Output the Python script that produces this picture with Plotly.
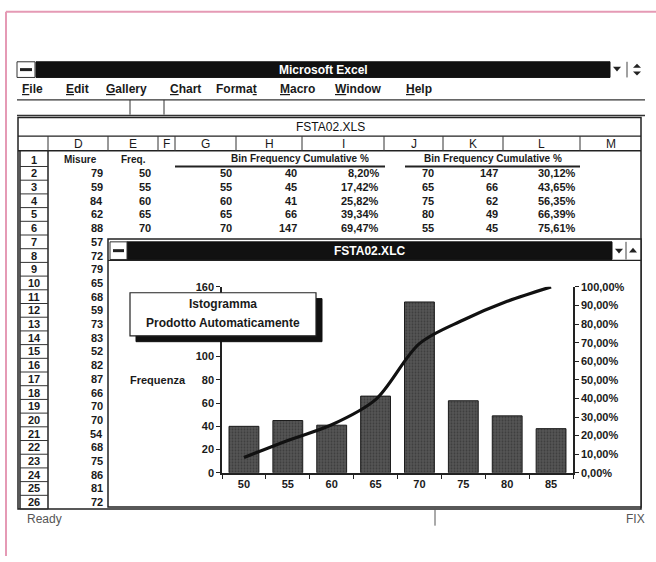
import plotly.graph_objects as go

W, H = 656, 562


def X(px):
    return px / W


def Y(py):
    return 1 - py / H


# ---------------- data ----------------
bins = ["50", "55", "60", "65", "70", "75", "80", "85"]
frequency = [40, 45, 41, 66, 147, 62, 49, 38]
cumulative_pct = [8.20, 17.42, 25.82, 39.34, 69.47, 82.17, 92.21, 100.00]

left_ticks = [0, 20, 40, 60, 80, 100, 120, 140, 160]
left_ticklabels = ["0", "20", "40", "60", "80", "100", "", "", "160"]  # 120/140 hidden by the text box
right_ticks = [0, 10, 20, 30, 40, 50, 60, 70, 80, 90, 100]
right_ticklabels = ["0,00%", "10,00%", "20,00%", "30,00%", "40,00%", "50,00%",
                    "60,00%", "70,00%", "80,00%", "90,00%", "100,00%"]

# spreadsheet content
misure = [79, 59, 84, 62, 88, 57, 72, 79, 65, 68, 59, 73, 83, 52, 82, 87, 66, 70,
          70, 54, 68, 75, 86, 81, 72]
freq_col = [50, 55, 60, 65, 70]
table_bins = [50, 55, 60, 65, 70]
table_freq = [40, 45, 41, 66, 147]
table_cum = ["8,20%", "17,42%", "25,82%", "39,34%", "69,47%"]
sorted_bins = [70, 65, 75, 80, 55]
sorted_freq = [147, 66, 62, 49, 45]
sorted_cum = ["30,12%", "43,65%", "56,35%", "66,39%", "75,61%"]
col_letters = ["D", "E", "F", "G", "H", "I", "J", "K", "L", "M"]
menu_items = ["<u>F</u>ile", "<u>E</u>dit", "<u>G</u>allery", "<u>C</u>hart",
              "Forma<u>t</u>", "<u>M</u>acro", "<u>W</u>indow", "<u>H</u>elp"]

FONT = "Liberation Sans"

fig = go.Figure()

fig.add_trace(go.Bar(
    x=bins, y=frequency, name="Frequency",
    marker=dict(color="#444444", line=dict(color="#1a1a1a", width=1),
                pattern=dict(shape=".", fgcolor="#262626", bgcolor="#555555",
                             size=3, solidity=0.3)),
    width=0.68, xaxis="x", yaxis="y", showlegend=False,
))
fig.add_trace(go.Scatter(
    x=bins, y=cumulative_pct, name="Cumulative %", mode="lines",
    line=dict(color="#111111", width=3.2, shape="spline", smoothing=0.9),
    xaxis="x", yaxis="y2", showlegend=False,
))

shapes = []
annotations = []


def line(x0, y0, x1, y1, color="#222", width=1, layer="below"):
    shapes.append(dict(type="line", xref="paper", yref="paper",
                       x0=X(x0), y0=Y(y0), x1=X(x1), y1=Y(y1),
                       line=dict(color=color, width=width), layer=layer))


def rect(x0, y0, x1, y1, fill="white", color="#222", width=1, layer="below"):
    shapes.append(dict(type="rect", xref="paper", yref="paper",
                       x0=X(x0), y0=Y(y1), x1=X(x1), y1=Y(y0),
                       fillcolor=fill, line=dict(color=color, width=width),
                       layer=layer))


def path(d_pts, fill="#222", layer="above"):
    p = "M " + " L ".join(f"{X(a):.5f},{Y(b):.5f}" for a, b in d_pts) + " Z"
    shapes.append(dict(type="path", xref="paper", yref="paper", path=p,
                       fillcolor=fill, line=dict(color=fill, width=0), layer=layer))


def txt(x, y, s, size=11, anchor="center", color="#1a1a1a", bold=True, font=FONT):
    annotations.append(dict(
        x=X(x), y=Y(y), xref="paper", yref="paper", text=(f"<b>{s}</b>" if bold else s),
        showarrow=False, xanchor=anchor, yanchor="middle",
        font=dict(family=font, size=size, color=color)))


# page border (pink)
line(6, 6, 656, 6, color="#e59ab5", width=2)
line(6, 6, 6, 562, color="#e59ab5", width=2)

# Excel title bar
rect(36, 57, 610, 73, fill="#111", color="#111")
rect(17, 57, 35, 73, fill="white", color="#333")
line(20, 65, 32, 65, color="#222", width=3)
txt(323, 65, "Microsoft Excel", size=12, color="white")
path([(613, 62), (621, 62), (617, 67)])
line(627, 57, 627, 73, color="#444", width=1)
path([(633, 63), (641, 63), (637, 59)])
path([(633, 67), (641, 67), (637, 71)])

# menu bar
menu_x = [20, 64, 104, 168, 214, 278, 333, 404]
for mx, m in zip(menu_x, menu_items):
    txt(mx, 85, m, size=12, anchor="left", bold=True)
line(17, 96, 645, 96, color="#333", width=1.2)
# formula bar
line(130, 96, 130, 111, color="#333")
line(164, 96, 164, 111, color="#333")
line(17, 112, 645, 112, color="#333", width=1.5)

# workbook window
rect(18, 114, 641, 514, fill="white", color="#222", width=1.5)
txt(330, 124, "FSTA02.XLS", size=12, bold=False, color="#111")
line(18, 133, 641, 133, color="#222", width=1.2)
col_edges = [20, 48, 108, 158, 175, 236, 302, 384, 443, 503, 580, 641]
line(18, 148, 641, 148, color="#222", width=1.5)
for e in col_edges[1:-1]:
    line(e, 133, e, 148, color="#333")
for i, c in enumerate(col_letters):
    txt((col_edges[i + 1] + col_edges[i + 2]) / 2, 141, c, size=12, bold=False)

# row header column
line(48, 148, 48, 514, color="#222", width=1.5)
line(20, 148, 20, 514, color="#222", width=1.5)
for r in range(1, 27):
    y0 = 150 + (r - 1) * 14
    line(20, y0 + 14, 48, y0 + 14, color="#333")
    txt(34, y0 + 7, str(r), size=11)


def row_y(r):
    return 157 + (r - 1) * 14


# row 1 headers
txt(80, row_y(1), "Misure", size=10)
txt(133, row_y(1), "Freq.", size=10)
txt(300, row_y(1) - 1, "Bin Frequency Cumulative %", size=10)
txt(493, row_y(1) - 1, "Bin Frequency Cumulative %", size=10)
line(175, 164, 385, 164, color="#222", width=2)
line(405, 164, 580, 164, color="#222", width=2)

for k, v in enumerate(misure):
    txt(105, row_y(k + 2), str(v), anchor="right")
for k in range(5):
    y = row_y(k + 2)
    txt(153, y, str(freq_col[k]), anchor="right")
    txt(234, y, str(table_bins[k]), anchor="right")
    txt(299, y, str(table_freq[k]), anchor="right")
    txt(381, y, table_cum[k], anchor="right")
    txt(436, y, str(sorted_bins[k]), anchor="right")
    txt(500, y, str(sorted_freq[k]), anchor="right")
    txt(578, y, sorted_cum[k], anchor="right")

# chart window
rect(108, 238, 641, 512, fill="white", color="#222", width=1.5)
rect(127, 241, 612, 259, fill="#111", color="#111")
rect(110, 241, 127, 259, fill="white", color="#333")
line(113, 250, 124, 250, color="#222", width=3)
txt(370, 250, "FSTA02.XLC", size=12, color="white")
line(626, 241, 626, 259, color="#444")
path([(615, 248), (623, 248), (619, 253)])
path([(629, 252), (637, 252), (633, 247)])
line(108, 260, 641, 260, color="#222", width=1.2)

# text box with shadow (above axis)
rect(136, 299, 322, 343, fill="#111", color="#111", layer="above")
rect(130, 293, 316, 337, fill="white", color="#222", width=1.2, layer="above")
txt(223, 305, "Istogramma", size=12)
txt(223, 324, "Prodotto Automaticamente", size=12)
txt(158, 382, "Frequenza", size=11)

# status bar
txt(25, 524, "Ready", size=12, anchor="left", bold=False, color="#555")
line(435, 514, 435, 531, color="#555")
txt(647, 524, "FIX", size=12, anchor="right", bold=False, color="#555")

tickfont = dict(family=FONT, size=11, color="#1a1a1a")

fig.update_layout(
    width=W, height=H,
    margin=dict(l=0, r=0, t=0, b=0),
    paper_bgcolor="white",
    plot_bgcolor="rgba(0,0,0,0)",
    bargap=0.32,
    shapes=shapes,
    annotations=annotations,
    xaxis=dict(
        domain=[X(222), X(573)], anchor="y", type="category",
        range=[-0.5, 7.5], showline=True, linecolor="#222", linewidth=1.5,
        ticks="outside", tickson="boundaries", ticklen=4, tickcolor="#222",
        showgrid=False, zeroline=False, tickfont=tickfont,
        tickprefix="<b>", ticksuffix="</b>",
    ),
    yaxis=dict(
        domain=[Y(477), Y(287)], anchor="x", range=[0, 160],
        tickvals=left_ticks,
        ticktext=[f"<b>{t}</b>" if t else "" for t in left_ticklabels],
        showline=True, linecolor="#222", linewidth=1.5,
        ticks="outside", ticklen=4, tickcolor="#222",
        showgrid=False, zeroline=False, tickfont=tickfont,
    ),
    yaxis2=dict(
        domain=[Y(477), Y(287)], anchor="x", overlaying="y", side="right",
        range=[0, 100], tickvals=right_ticks,
        ticktext=[f"<b>{t}</b>" for t in right_ticklabels],
        showline=True, linecolor="#222", linewidth=1.5,
        ticks="outside", ticklen=4, tickcolor="#222",
        showgrid=False, zeroline=False, tickfont=tickfont,
    ),
)

fig.write_html("out.html")
